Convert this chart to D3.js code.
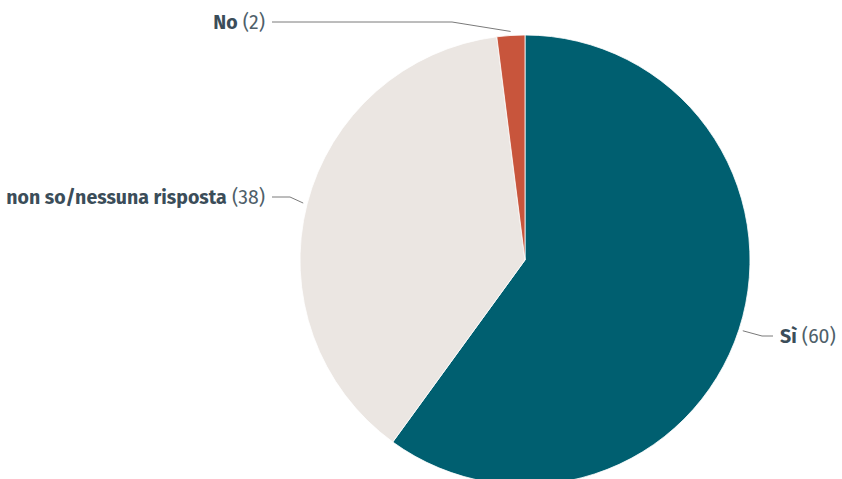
<!DOCTYPE html>
<html>
<head>
<meta charset="utf-8">
<script src="https://cdn.jsdelivr.net/npm/d3@7"></script>
<style>
  html, body { margin: 0; padding: 0; background: #ffffff; }
  svg { display: block; }
  .lbl { font-family: "Fira Sans", Lato, "Noto Sans", sans-serif; font-size: 19.5px; fill: #3b4d59; }
  .lbl .name { font-weight: 700; }
  .lbl .val { font-weight: 400; fill: #4f5f6a; }
</style>
</head>
<body>
<svg id="chart" width="842" height="479"></svg>
<script>
// Survey answers and counts
const categories = ["Sì", "non so/nessuna risposta", "No"];
const values = [60, 38, 2];
const colors = ["#005f70", "#ebe6e2", "#c8553c"];

// Leader-line / label layout for each slice: label y, elbow x, label x and side
const labelLayout = [
  { y: 336, elbowX: 762, textX: 780, side: "right" },
  { y: 197, elbowX: 290, textX: 265, side: "left" },
  { y: 22,  elbowX: 452, textX: 265, side: "left" }
];

const cx = 525, cy = 260, radius = 225;

const svg = d3.select("#chart");
const g = svg.append("g").attr("transform", `translate(${cx},${cy})`);

const pie = d3.pie().sort(null).value(d => d)(values);
const arc = d3.arc().innerRadius(0).outerRadius(radius);

g.selectAll("path.slice")
  .data(pie)
  .join("path")
  .attr("class", "slice")
  .attr("d", arc)
  .attr("fill", (d, i) => colors[i])
  .attr("stroke", "#ffffff")
  .attr("stroke-width", 0.8);

// Leader lines from the slice edge to each label
const outer = d3.arc().innerRadius(radius + 4).outerRadius(radius + 4);
pie.forEach((d, i) => {
  const L = labelLayout[i];
  const [sx, sy] = outer.centroid(d);
  const start = [sx + cx, sy + cy];
  const endX = L.side === "right" ? L.textX - 7 : L.textX + 7;
  svg.append("polyline")
    .attr("points", [start, [L.elbowX, L.y], [endX, L.y]].map(p => p.join(",")).join(" "))
    .attr("fill", "none")
    .attr("stroke", "#7a7a7a")
    .attr("stroke-width", 1);

  const t = svg.append("text")
    .attr("class", "lbl")
    .attr("x", L.textX)
    .attr("y", L.y)
    .attr("dy", "0.35em")
    .attr("text-anchor", L.side === "right" ? "start" : "end");
  t.append("tspan").attr("class", "name").text(categories[i]);
  t.append("tspan").attr("class", "val").text(` (${values[i]})`);
});
</script>
</body>
</html>
